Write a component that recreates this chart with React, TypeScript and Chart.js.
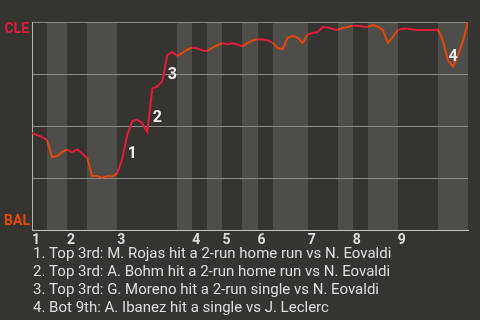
import { useEffect, useRef } from "react";
import { Chart, registerables } from "chart.js";

Chart.register(...registerables);

// ---- data ----
const INNING_LABELS = ["1", "2", "3", "4", "5", "6", "7", "8", "9"];
// plate appearances per half-inning (top 1st, bot 1st, top 2nd, ...)
const HALF_INNING_PAS = [3, 4, 4, 6, 12, 3, 3, 3, 4, 3, 3, 7, 6, 3, 3, 6, 8, 6];
// CLE win probability (%) after each plate appearance
const CLE_WIN_PCT = [
  46.6, 45.7, 44.7, 43.3, 35.1, 35.6, 37.5, 38.7, 37.3, 38.7,
  36.8, 34.6, 26.0, 26.0, 25.0, 26.0, 25.7, 27.2, 34.1, 45.7,
  52.4, 53.1, 51.4, 46.9, 68.0, 69.0, 71.6, 84.1, 85.6, 83.7,
  85.1, 86.8, 87.7, 87.3, 86.3, 86.1, 87.7, 88.9, 89.9, 89.2,
  89.9, 89.2, 88.2, 89.9, 91.1, 91.7, 91.6, 91.2, 90.1, 87.5,
  87.0, 92.5, 93.3, 92.5, 89.9, 94.0, 94.7, 95.2, 97.6, 97.4,
  96.6, 96.2, 97.1, 97.6, 98.2, 98.2, 97.8, 97.7, 98.5, 97.8,
  96.2, 89.9, 92.8, 96.2, 96.9, 96.7, 96.4, 96.2, 96.2, 96.2,
  96.2, 96.4, 90.9, 81.7, 78.6, 84.1, 90.9, 100,
];
const EVENT_START_INDEX = [18, 23, 26, 82];
const EVENT_LABELS = ["1", "2", "3", "4"];
const EVENT_NOTES = [
  "1. Top 3rd: M. Rojas hit a 2-run home run vs N. Eovaldi",
  "2. Top 3rd: A. Bohm hit a 2-run home run vs N. Eovaldi",
  "3. Top 3rd: G. Moreno hit a 2-run single vs N. Eovaldi",
  "4. Bot 9th: A. Ibanez hit a single vs J. Leclerc",
];
const TOP_TEAM = "CLE";
const BOTTOM_TEAM = "BAL";

// ---- styles ----
const BG = "#363430";
const BAND = "#4f4d4a";
const RED = "#e41b3c";
const ORANGE = "#e4490b";
const TEXT = "#dedede";
const FONT = "Roboto, 'Noto Sans', sans-serif";

export default function App() {
  const ref = useRef<HTMLCanvasElement | null>(null);

  useEffect(() => {
    if (!ref.current) return;

    const halfStarts: number[] = [];
    let acc = 0;
    HALF_INNING_PAS.forEach((n) => {
      halfStarts.push(acc);
      acc += n;
    });
    const total = acc;
    const inningStarts = halfStarts.filter((_, i) => i % 2 === 0);
    const halfOf = (idx: number) => {
      let h = 0;
      for (let i = 0; i < halfStarts.length; i++) if (idx >= halfStarts[i]) h = i;
      return h;
    };

    const bgPlugin = {
      id: "bgBands",
      beforeDraw(chart: any) {
        const { ctx, chartArea } = chart;
        const x = chart.scales.x;
        ctx.save();
        ctx.fillStyle = BG;
        ctx.fillRect(0, 0, chart.width, chart.height);
        HALF_INNING_PAS.forEach((n, h) => {
          if (h % 2 === 1) {
            const x0 = Math.round(x.getPixelForValue(halfStarts[h]));
            const x1 = Math.round(x.getPixelForValue(halfStarts[h] + n));
            ctx.fillStyle = BAND;
            ctx.fillRect(x0, chartArea.top, x1 - x0, chartArea.bottom - chartArea.top);
          }
        });
        ctx.restore();
      },
      afterDraw(chart: any) {
        const { ctx, chartArea } = chart;
        const x = chart.scales.x;
        const y = chart.scales.y;
        ctx.save();
        // team labels
        ctx.font = `bold 14px ${FONT}`;
        ctx.textAlign = "right";
        ctx.textBaseline = "alphabetic";
        ctx.fillStyle = RED;
        ctx.fillText(TOP_TEAM, chartArea.left - 3, chartArea.top + 11.3);
        ctx.fillStyle = ORANGE;
        ctx.fillText(BOTTOM_TEAM, chartArea.left - 2, chartArea.bottom - 5);
        // event labels
        ctx.font = `bold 16px ${FONT}`;
        ctx.fillStyle = "#f2f2f2";
        ctx.textAlign = "left";
        ctx.textBaseline = "middle";
        EVENT_START_INDEX.forEach((i, k) => {
          const mx = (x.getPixelForValue(i) + x.getPixelForValue(i + 1)) / 2;
          const my = (y.getPixelForValue(CLE_WIN_PCT[i]) + y.getPixelForValue(CLE_WIN_PCT[i + 1])) / 2;
          ctx.fillText(EVENT_LABELS[k], mx + 3, my + 7);
        });
        // notes
        ctx.font = `15px ${FONT}`;
        ctx.fillStyle = TEXT;
        ctx.textBaseline = "alphabetic";
        EVENT_NOTES.forEach((t, k) => {
          ctx.fillText(t, 33, 257.5 + k * 18);
        });
        ctx.restore();
      },
    };

    const chart = new Chart(ref.current, {
      type: "line",
      data: {
        datasets: [
          {
            data: CLE_WIN_PCT.map((v, i) => ({ x: i, y: v })),
            borderWidth: 2,
            pointRadius: 0,
            tension: 0,
            fill: false,
            borderColor: RED,
            segment: {
              borderColor: (c: any) => (halfOf(c.p0DataIndex) % 2 === 0 ? RED : ORANGE),
            },
          },
        ],
      },
      options: {
        animation: false,
        responsive: false,
        events: [],
        layout: { padding: { top: 22, right: 12, left: 0, bottom: 0 } },
        plugins: { legend: { display: false }, tooltip: { enabled: false } },
        scales: {
          x: {
            type: "linear",
            min: 0,
            max: total,
            grid: { display: false },
            border: { display: true, color: "#c4c4c0", width: 1 },
            afterFit: (s: any) => {
              s.height = 90;
            },
            afterBuildTicks: (s: any) => {
              s.ticks = inningStarts.map((v) => ({ value: v }));
            },
            ticks: {
              autoSkip: false,
              maxRotation: 0,
              minRotation: 0,
              align: "start",
              padding: -6,
              color: TEXT,
              font: { family: FONT, size: 14, weight: "bold" },
              callback: (_v: any, i: number) => INNING_LABELS[i],
            },
          },
          y: {
            min: 0,
            max: 100,
            afterFit: (s: any) => {
              s.width = 32;
            },
            ticks: { display: false, stepSize: 25 },
            grid: { color: "#8c8b87", lineWidth: 1, drawTicks: false },
            border: { display: true, color: "#b4b4b0", width: 1 },
          },
        },
      },
      plugins: [bgPlugin],
    } as any);

    return () => chart.destroy();
  }, []);

  return (
    <div style={{ position: "fixed", left: 0, top: 0, width: 480, height: 320, background: BG }}>
      <canvas ref={ref} width={480} height={320} style={{ display: "block" }} />
    </div>
  );
}
